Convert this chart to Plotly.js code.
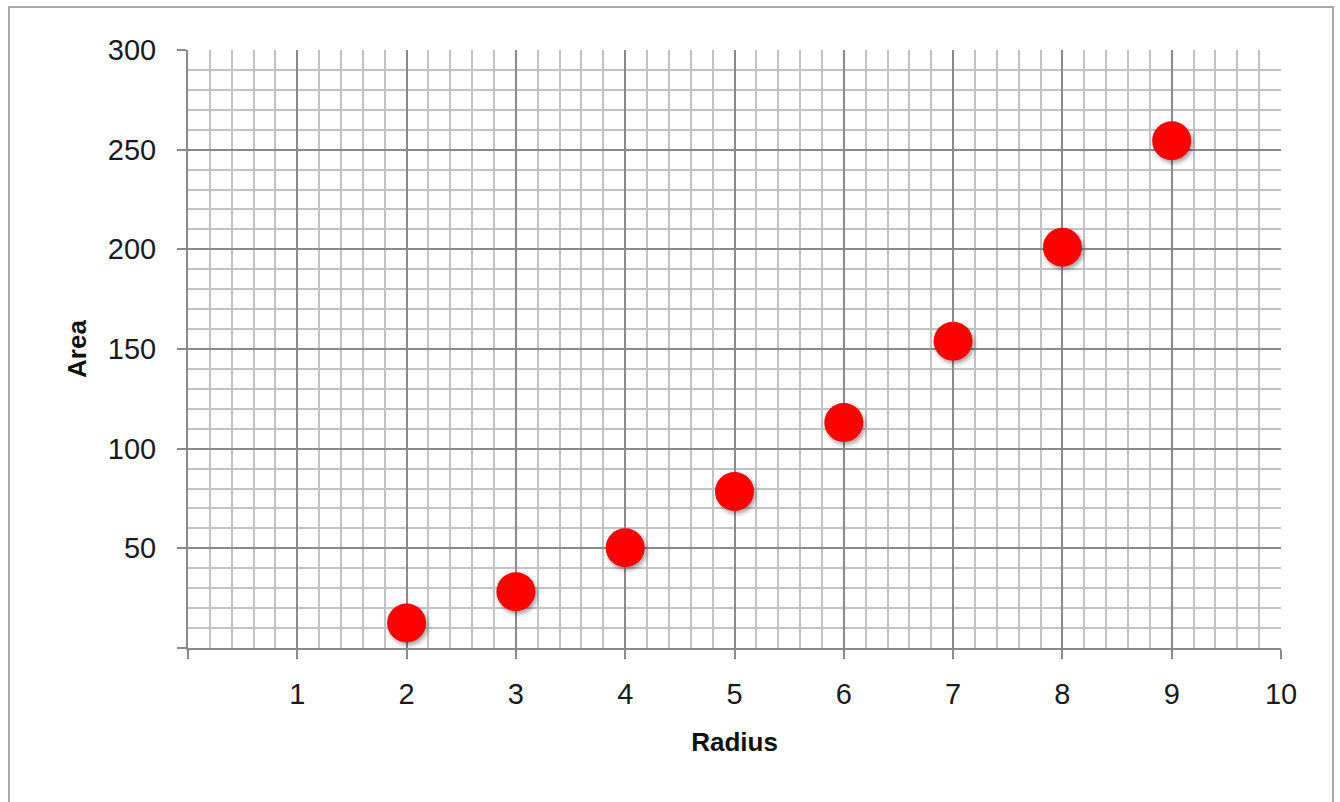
<!DOCTYPE html>
<html>
<head>
<meta charset="utf-8">
<script src="https://cdn.plot.ly/plotly-3.0.1.min.js"></script>
<style>
  html, body { margin: 0; padding: 0; background: #fff; }
  #wrap { position: relative; width: 1340px; height: 802px; overflow: hidden; }
  #frame { position: absolute; left: 8px; top: 6px; width: 1326px; height: 820px; border: 2px solid #a8a8a8; box-sizing: border-box; pointer-events: none; z-index: 5; }
  #chart { position: absolute; left: 0; top: 0; width: 1340px; height: 802px; }
  .scatterlayer .point { filter: drop-shadow(2px 3px 2px rgba(0,0,0,0.35)); }
</style>
</head>
<body>
<div id="wrap">
  <div id="chart"></div>
  <div id="frame"></div>
</div>
<script>
// Data
const radius = [2, 3, 4, 5, 6, 7, 8, 9];
const area = [12.57, 28.27, 50.27, 78.54, 113.10, 153.94, 201.06, 254.47];

const xTickVals = [0, 1, 2, 3, 4, 5, 6, 7, 8, 9, 10];
const xTickText = ['', '1', '2', '3', '4', '5', '6', '7', '8', '9', '10'];
const yTickVals = [0, 50, 100, 150, 200, 250, 300];
const yTickText = ['', '50', '100', '150', '200', '250', '300'];

const tickFont = { family: 'Liberation Sans, Arial, sans-serif', size: 29, color: '#1a1a1a' };
const titleFont = { family: 'Liberation Sans, Arial, sans-serif', size: 26, color: '#111', weight: 'bold' };

const trace = {
  x: radius,
  y: area,
  type: 'scatter',
  mode: 'markers',
  marker: { color: '#ff0000', size: 39, line: { width: 0 } },
  hoverinfo: 'x+y'
};

const layout = {
  width: 1340,
  height: 802,
  margin: { l: 188, r: 59, t: 50, b: 154 },
  paper_bgcolor: 'rgba(0,0,0,0)',
  plot_bgcolor: '#ffffff',
  showlegend: false,
  xaxis: {
    range: [0, 10],
    tickmode: 'array',
    tickvals: xTickVals,
    ticktext: xTickText,
    ticks: 'outside',
    ticklen: 9,
    tickwidth: 2,
    tickcolor: '#8a8a8a',
    tickfont: tickFont,
    ticklabelstandoff: 10,
    showgrid: true,
    gridcolor: '#8a8a8a',
    gridwidth: 1.5,
    minor: { dtick: 0.2, showgrid: true, gridcolor: '#c2c2c2', gridwidth: 1.5, ticks: '' },
    showline: true,
    linecolor: '#8a8a8a',
    linewidth: 2,
    zeroline: false,
    title: { text: '<b>Radius</b>', font: titleFont, standoff: 24 },
    fixedrange: true
  },
  yaxis: {
    range: [0, 300],
    tickmode: 'array',
    tickvals: yTickVals,
    ticktext: yTickText,
    ticks: 'outside',
    ticklen: 9,
    tickwidth: 2,
    tickcolor: '#8a8a8a',
    tickfont: tickFont,
    ticklabelstandoff: 15,
    showgrid: true,
    gridcolor: '#8a8a8a',
    gridwidth: 1.5,
    minor: { dtick: 10, showgrid: true, gridcolor: '#c2c2c2', gridwidth: 1.5, ticks: '' },
    showline: true,
    linecolor: '#8a8a8a',
    linewidth: 2,
    zeroline: false,
    title: { text: '<b>Area</b>', font: titleFont, standoff: 14 },
    fixedrange: true
  }
};

Plotly.newPlot('chart', [trace], layout, { displayModeBar: false, staticPlot: false });
</script>
</body>
</html>
